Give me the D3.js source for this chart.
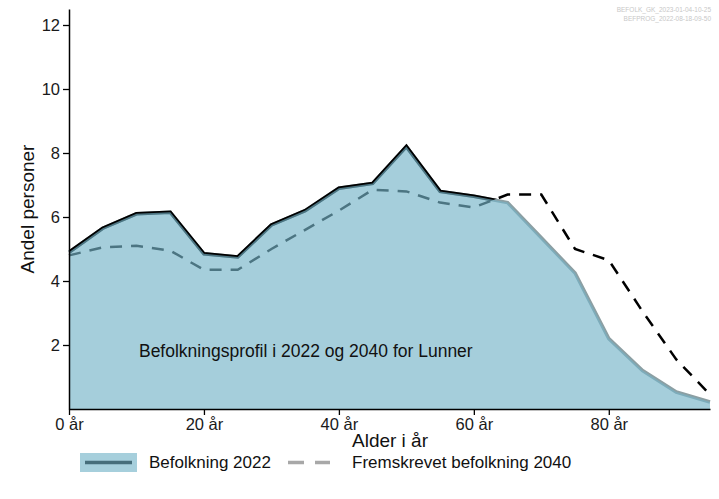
<!DOCTYPE html>
<html>
<head>
<meta charset="utf-8">
<script src="https://cdn.jsdelivr.net/npm/d3@7"></script>
<style>
  body { margin: 0; background: #fff; }
  svg text { font-family: "Liberation Sans", Arial, sans-serif; }
</style>
</head>
<body>
<script>
// alder (5-aars grupper) og andel personer
const ages = [0, 5, 10, 15, 20, 25, 30, 35, 40, 45, 50, 55, 60, 65, 70, 75, 80, 85, 90, 95];
const pop2022 = [4.9, 5.65, 6.1, 6.15, 4.85, 4.75, 5.75, 6.2, 6.9, 7.05, 8.2, 6.8, 6.65, 6.45, 5.35, 4.25, 2.2, 1.2, 0.53, 0.22];
const pop2040 = [4.8, 5.05, 5.1, 4.95, 4.35, 4.35, 5.0, 5.6, 6.2, 6.85, 6.8, 6.45, 6.3, 6.7, 6.7, 5.0, 4.65, 3.05, 1.55, 0.45];
const yTicks = [2, 4, 6, 8, 10, 12];
const xTicks = [0, 20, 40, 60, 80];

const W = 719, H = 499;
const svg = d3.select("body").append("svg")
    .attr("width", W)
    .attr("height", H);

const x = d3.scaleLinear().domain([0, 95]).range([69, 710]);
const y = d3.scaleLinear().domain([0, 12.5]).range([409, 9]);

const data = ages.map((a, i) => ({age: a, v22: pop2022[i], v40: pop2040[i]}));

// clip: omraadet over 2040-linja
svg.append("clipPath").attr("id", "above40")
  .append("path")
    .attr("d", d3.area().x(d => x(d.age)).y0(0).y1(d => y(d.v40))(data));

const line22 = d3.line().x(d => x(d.age)).y(d => y(d.v22));
const line40 = d3.line().x(d => x(d.age)).y(d => y(d.v40));

svg.append("path")
    .attr("d", line22(data))
    .attr("fill", "none")
    .attr("stroke", "#8c9fa3")
    .attr("stroke-width", 3.5);

svg.append("path")
    .attr("d", line22(data))
    .attr("clip-path", "url(#above40)")
    .attr("fill", "none")
    .attr("stroke", "#000")
    .attr("stroke-width", 3.5);

svg.append("path")
    .attr("d", line40(data))
    .attr("fill", "none")
    .attr("stroke", "#000")
    .attr("stroke-width", 2.5)
    .attr("stroke-dasharray", "12,9");

svg.append("path")
    .attr("d", d3.area().x(d => x(d.age)).y0(y(0)).y1(d => y(d.v22))(data))
    .attr("fill", "rgb(116,180,200)")
    .attr("fill-opacity", 0.65);

// akser
const yAxis = svg.append("g")
    .attr("transform", "translate(" + x(0) + ",0)")
    .call(d3.axisLeft(y).tickValues(yTicks).tickSize(6).tickSizeOuter(0).tickFormat(d3.format("d")));
const xAxis = svg.append("g")
    .attr("transform", "translate(0," + y(0) + ")")
    .call(d3.axisBottom(x).tickValues(xTicks).tickSize(6).tickSizeOuter(0).tickFormat(d => d + " år"));

[yAxis, xAxis].forEach(g => {
  g.select(".domain").attr("stroke", "#000").attr("stroke-width", 1.5);
  g.selectAll(".tick line").attr("stroke", "#000").attr("stroke-width", 1.3);
  g.selectAll(".tick text").attr("font-size", 16.5).attr("fill", "#1a1a1a")
    .style("font-family", "'Liberation Sans', Arial, sans-serif");
});
yAxis.selectAll(".tick text").attr("x", -9);
xAxis.selectAll(".tick text").attr("y", 9);

svg.append("text")
    .attr("x", 390).attr("y", 447)
    .attr("text-anchor", "middle")
    .attr("font-size", 19)
    .attr("fill", "#111")
    .text("Alder i år");

svg.append("text")
    .attr("transform", "translate(34,209) rotate(-90)")
    .attr("text-anchor", "middle")
    .attr("font-size", 19)
    .attr("fill", "#111")
    .text("Andel personer");

// tekst inne i figuren
svg.append("text")
    .attr("x", x(35.1)).attr("y", y(1.76))
    .attr("text-anchor", "middle")
    .attr("dominant-baseline", "middle")
    .attr("font-size", 17.5)
    .attr("fill", "#111")
    .text("Befolkningsprofil i 2022 og 2040 for Lunner");

// kildestempel
svg.append("text")
    .attr("x", 711).attr("y", 12)
    .attr("text-anchor", "end")
    .attr("font-size", 6.5)
    .attr("fill", "#c8c8c8")
    .text("BEFOLK_GK_2023-01-04-10-25");
svg.append("text")
    .attr("x", 711).attr("y", 21)
    .attr("text-anchor", "end")
    .attr("font-size", 6.5)
    .attr("fill", "#c8c8c8")
    .text("BEFPROG_2022-08-18-09-50");

// legende
const leg = svg.append("g");
leg.append("rect")
    .attr("x", 80).attr("y", 453).attr("width", 57).attr("height", 19)
    .attr("fill", "#a6cfdc");
leg.append("line")
    .attr("x1", 85).attr("x2", 132).attr("y1", 462.5).attr("y2", 462.5)
    .attr("stroke", "#466e7b").attr("stroke-width", 3.5);
leg.append("text")
    .attr("x", 149).attr("y", 468)
    .attr("font-size", 17).attr("fill", "#111")
    .text("Befolkning 2022");
leg.append("line")
    .attr("x1", 288).attr("x2", 330).attr("y1", 462.5).attr("y2", 462.5)
    .attr("stroke", "#a8a8a8").attr("stroke-width", 3.5)
    .attr("stroke-dasharray", "16,11");
leg.append("text")
    .attr("x", 352).attr("y", 468)
    .attr("font-size", 17).attr("fill", "#111")
    .text("Fremskrevet befolkning 2040");
</script>
</body>
</html>
